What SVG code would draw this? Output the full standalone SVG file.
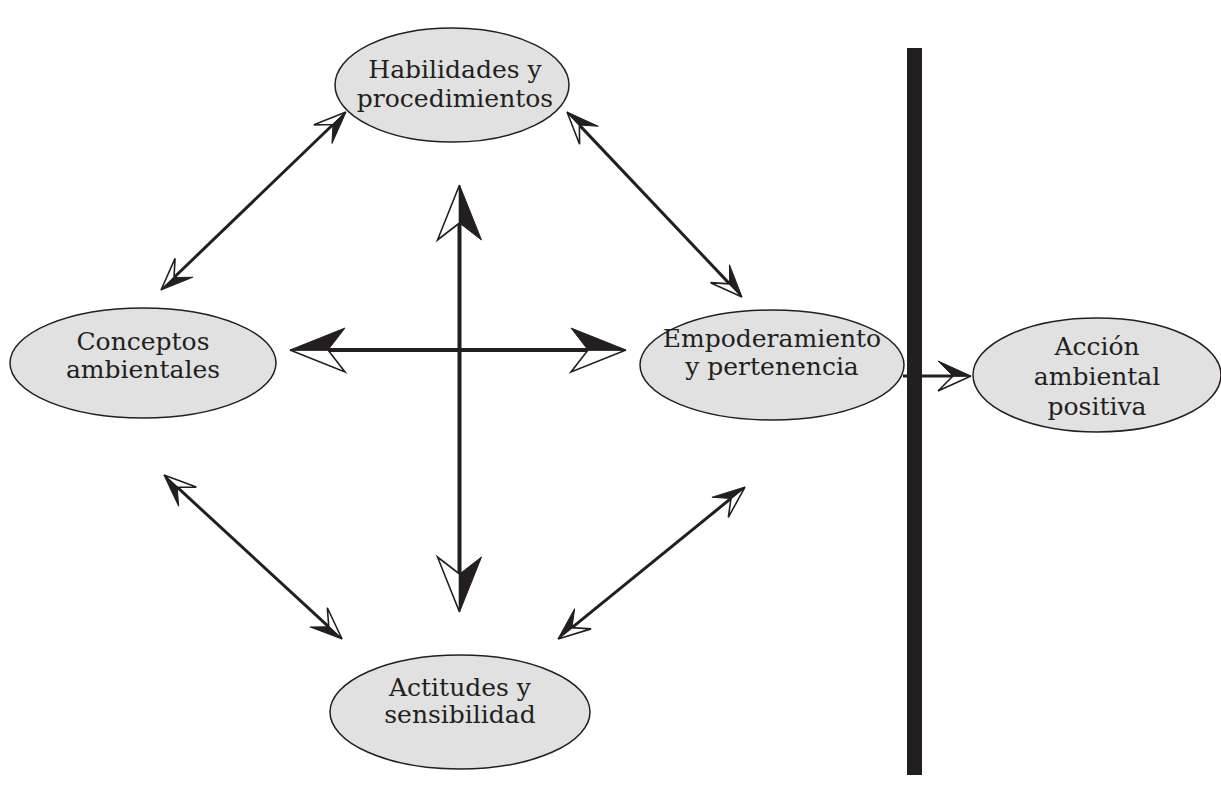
<svg xmlns="http://www.w3.org/2000/svg" width="1221" height="804" viewBox="0 0 1221 804">
<style>
.node ellipse{fill:#e1e1e1;stroke:#231f20;stroke-width:1.5}
.node text{font-family:"DejaVu Serif","Liberation Serif",serif;font-size:25px;fill:#231f20;text-anchor:middle}
.thin{stroke:#231f20;stroke-width:3;fill:none}
.bold{stroke:#231f20;stroke-width:4;fill:none}
.blk{fill:#231f20;stroke:#231f20;stroke-width:1;stroke-linejoin:miter}
.wht{fill:#fff;stroke:#231f20;stroke-width:1.6;stroke-linejoin:miter}
</style>
<defs>
<marker id="se" markerUnits="userSpaceOnUse" markerWidth="100" markerHeight="100" refX="0" refY="0" orient="auto" overflow="visible">
<polygon class="wht" points="18,0 -14,13 0,0"/><polygon class="blk" points="18,0 -14,-13 0,0"/>
</marker>
<marker id="ss" markerUnits="userSpaceOnUse" markerWidth="100" markerHeight="100" refX="0" refY="0" orient="auto" overflow="visible">
<polygon class="wht" points="-18,0 14,13 0,0"/><polygon class="blk" points="-18,0 14,-13 0,0"/>
</marker>
<marker id="be" markerUnits="userSpaceOnUse" markerWidth="100" markerHeight="100" refX="0" refY="0" orient="auto" overflow="visible">
<polygon class="wht" points="38,0 -17,22 0,0"/><polygon class="blk" points="38,0 -17,-22 0,0"/>
</marker>
<marker id="bs" markerUnits="userSpaceOnUse" markerWidth="100" markerHeight="100" refX="0" refY="0" orient="auto" overflow="visible">
<polygon class="wht" points="-38,0 17,22 0,0"/><polygon class="blk" points="-38,0 17,-22 0,0"/>
</marker>
<marker id="ae" markerUnits="userSpaceOnUse" markerWidth="100" markerHeight="100" refX="0" refY="0" orient="auto" overflow="visible">
<polygon class="wht" points="18,0 -15,15 0,0"/><polygon class="blk" points="18,0 -15,-15 0,0"/>
</marker>
</defs>

<g id="barrier">
<rect x="907" y="48" width="15" height="727" fill="#231f20"/>
</g>

<g id="node-habilidades" class="node">
<ellipse cx="452" cy="85" rx="117" ry="57"/>
<text x="455" y="78">Habilidades y</text>
<text x="455" y="107">procedimientos</text>
</g>
<g id="node-conceptos" class="node">
<ellipse cx="143" cy="363" rx="133" ry="55"/>
<text x="143" y="350">Conceptos</text>
<text x="143" y="378">ambientales</text>
</g>
<g id="node-empoderamiento" class="node">
<ellipse cx="772" cy="365" rx="132" ry="55"/>
<text x="772" y="347">Empoderamiento</text>
<text x="772" y="375">y pertenencia</text>
</g>
<g id="node-accion" class="node">
<ellipse cx="1097" cy="375" rx="124" ry="57"/>
<text x="1097" y="355">Acción</text>
<text x="1097" y="385">ambiental</text>
<text x="1097" y="415">positiva</text>
</g>
<g id="node-actitudes" class="node">
<ellipse cx="460" cy="712" rx="130" ry="57"/>
<text x="460" y="696">Actitudes y</text>
<text x="460" y="723">sensibilidad</text>
</g>

<g id="connectors">
<line class="thin" x1="333" y1="124.5" x2="174" y2="277.5" marker-start="url(#ss)" marker-end="url(#se)"/>
<line class="thin" x1="579.4" y1="125.1" x2="729.6" y2="283.9" marker-start="url(#ss)" marker-end="url(#se)"/>
<line class="thin" x1="328.8" y1="626.8" x2="177.2" y2="487.2" marker-start="url(#ss)" marker-end="url(#se)"/>
<line class="thin" x1="572" y1="627.6" x2="731" y2="498.4" marker-start="url(#ss)" marker-end="url(#se)"/>
<line class="bold" x1="459.5" y1="223" x2="459.5" y2="574" marker-start="url(#bs)" marker-end="url(#be)"/>
<line class="bold" x1="328" y1="350" x2="588" y2="350" marker-start="url(#bs)" marker-end="url(#be)"/>
<line class="thin" x1="903" y1="376" x2="953" y2="376" marker-end="url(#ae)"/>
</g>
</svg>
